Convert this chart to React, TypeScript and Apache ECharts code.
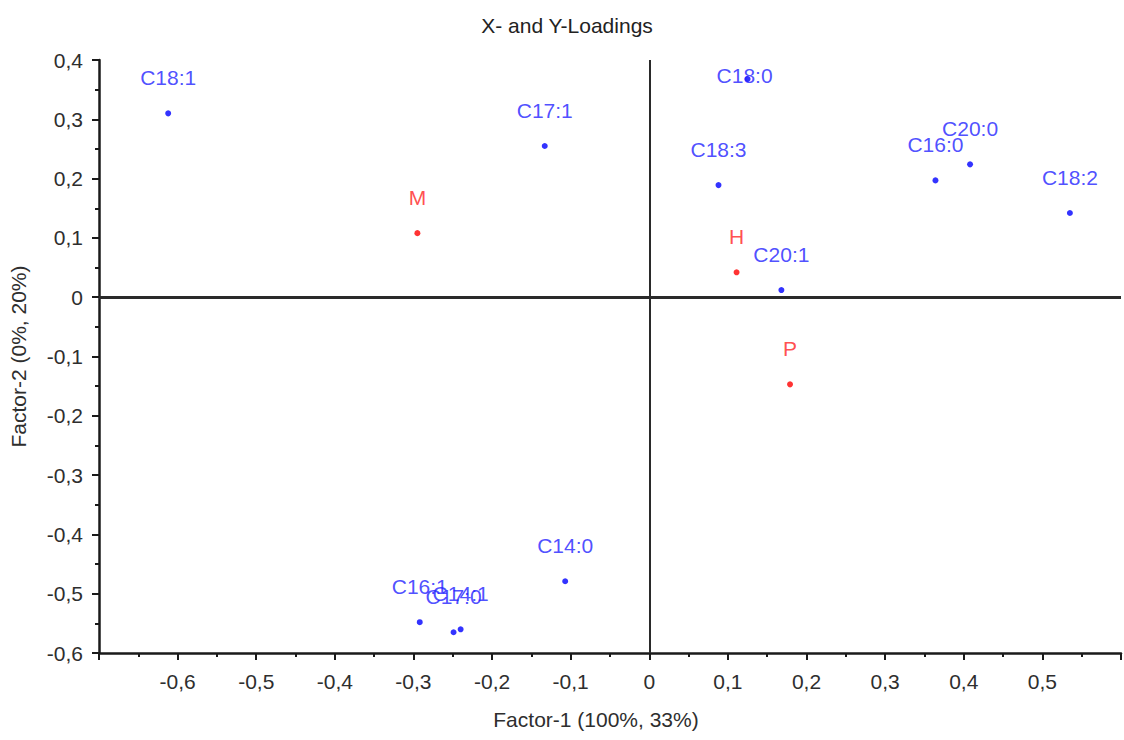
import React, { useEffect, useRef } from "react";
import * as echarts from "echarts";

// Fatty-acid (X) loadings
const fattyAcids = ["C18:1", "C17:1", "C18:0", "C18:3", "C16:0", "C20:0", "C18:2", "C20:1", "C14:0", "C16:1", "C17:0", "C14:1"];
const fattyX = [-0.612, -0.133, 0.125, 0.088, 0.364, 0.408, 0.535, 0.168, -0.107, -0.292, -0.249, -0.240];
const fattyY = [0.31, 0.255, 0.368, 0.189, 0.197, 0.224, 0.142, 0.012, -0.479, -0.548, -0.565, -0.56];

// Response (Y) loadings
const responses = ["M", "H", "P"];
const responseX = [-0.295, 0.111, 0.179];
const responseY = [0.108, 0.042, -0.147];

const titleText = "X- and Y-Loadings";
const xAxisName = "Factor-1 (100%, 33%)";
const yAxisName = "Factor-2 (0%, 20%)";

const FONT = "'Liberation Sans', Arial, Helvetica, sans-serif";
const BLUE = "#0000ff";
const BLUE_TEXT = "#2222ff";
const RED = "#ff0000";
const RED_TEXT = "#ff2222";
const INK = "#2e2e2e";

// labels that sit against the top edge get pushed down inside the plot
const labelShift: Record<string, [number, number]> = { "C18:0": [-3, 32] };

const fmt = (v: number) => {
  if (Math.abs(v) < 1e-9) return "0";
  return v.toFixed(1).replace(".", ",");
};

export default function App() {
  const ref = useRef<HTMLDivElement>(null);

  useEffect(() => {
    if (!ref.current) return;
    const chart = echarts.init(ref.current, undefined, { renderer: "svg" });

    const fattyData = fattyAcids.map((name, i) => {
      const item: any = { name, value: [fattyX[i], fattyY[i]] };
      if (labelShift[name]) item.label = { offset: labelShift[name] };
      return item;
    });
    const responseData = responses.map((name, i) => ({ name, value: [responseX[i], responseY[i]] }));

    const axisCommon = {
      interval: 0.1,
      splitLine: { show: false },
      axisLine: { show: true, onZero: false, lineStyle: { color: "#1a1a1a", width: 2.5 } },
      axisTick: { show: true, length: 7, lineStyle: { color: "#1a1a1a", width: 2 } },
      minorTick: { show: true, splitNumber: 2, length: 4, lineStyle: { color: "#1a1a1a", width: 2 } },
      nameTextStyle: { fontFamily: FONT, fontSize: 21, color: INK },
    };

    const labelStyle = {
      show: true,
      position: "top",
      distance: 22,
      formatter: "{b}",
      fontFamily: FONT,
      fontSize: 21,
    };

    chart.setOption({
      animation: false,
      backgroundColor: "#ffffff",
      grid: { left: 96, right: 0, top: 60, bottom: 87 },
      graphic: [
        {
          type: "text",
          x: 567,
          y: 25,
          style: {
            text: titleText,
            fontFamily: FONT,
            fontSize: 21,
            fill: "#222222",
            textAlign: "center",
            textVerticalAlign: "middle",
          },
        },
      ],
      xAxis: {
        ...axisCommon,
        type: "value",
        min: -0.7,
        max: 0.6,
        name: xAxisName,
        nameLocation: "middle",
        nameGap: 56,
        nameTextStyle: { ...axisCommon.nameTextStyle, padding: [0, 28, 0, 0] },
        axisLabel: {
          margin: 18,
          fontFamily: FONT,
          fontSize: 21,
          color: INK,
          formatter: (v: number) => (v < -0.65 || v > 0.55 ? "" : fmt(v)),
        },
      },
      yAxis: {
        ...axisCommon,
        type: "value",
        min: -0.6,
        max: 0.4,
        name: yAxisName,
        nameLocation: "middle",
        nameGap: 70,
        axisLabel: {
          margin: 16,
          fontFamily: FONT,
          fontSize: 21,
          color: INK,
          formatter: (v: number) => fmt(v),
        },
      },
      series: [
        {
          type: "scatter",
          data: fattyData,
          symbolSize: 6,
          itemStyle: { color: BLUE },
          label: { ...labelStyle, color: BLUE_TEXT },
          markLine: {
            silent: true,
            symbol: "none",
            label: { show: false },
            data: [
              { xAxis: 0, lineStyle: { color: "#2a2a2a", width: 2, type: "solid" } },
              { yAxis: 0, lineStyle: { color: "#2a2a2a", width: 3, type: "solid" } },
            ],
          },
          z: 3,
        },
        {
          type: "scatter",
          data: responseData,
          symbolSize: 6,
          itemStyle: { color: RED },
          label: { ...labelStyle, color: RED_TEXT },
          z: 3,
        },
      ],
    });

    return () => chart.dispose();
  }, []);

  return (
    <div
      ref={ref}
      style={{ position: "fixed", left: 0, top: 0, width: 1124, height: 740, background: "#fff" }}
    />
  );
}
